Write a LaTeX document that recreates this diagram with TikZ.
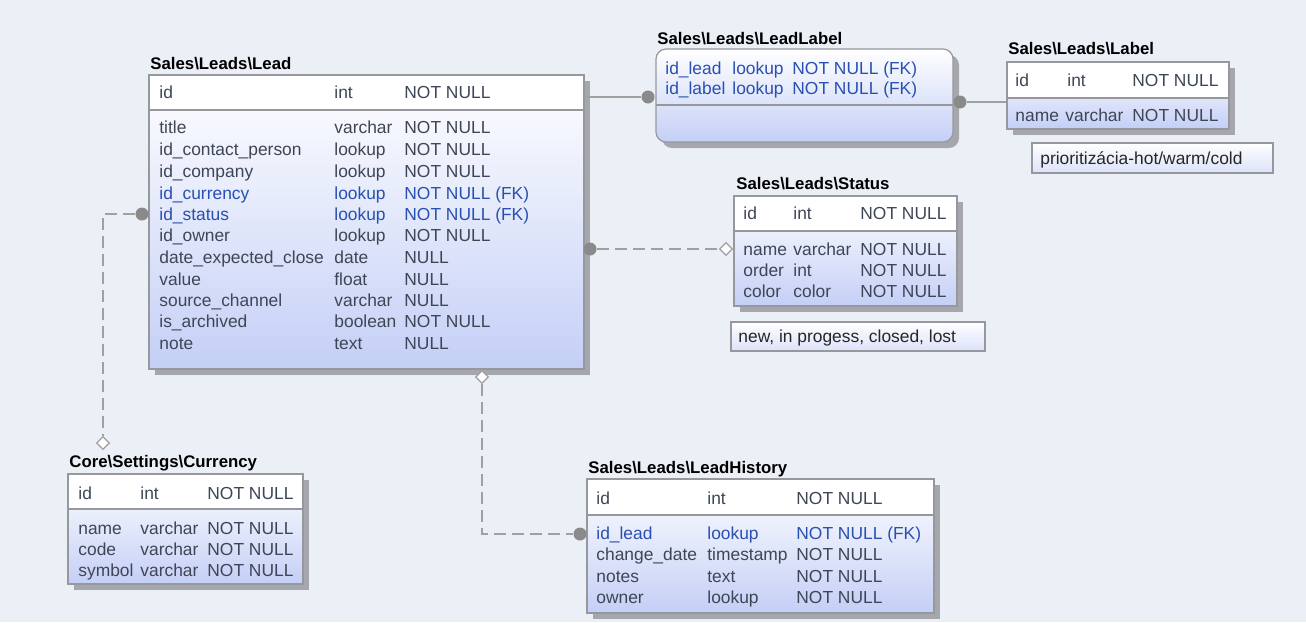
\documentclass[tikz,border=0pt]{standalone}
\usepackage{fontspec}
\setmainfont{Liberation Sans}
\usepackage{tikz}
\definecolor{bgblue}{RGB}{235,240,247}
\definecolor{bodyblue}{RGB}{196,207,246}
\definecolor{border}{RGB}{150,152,158}
\definecolor{shadowgray}{RGB}{165,167,172}
\definecolor{txt}{RGB}{62,70,86}
\definecolor{fk}{RGB}{40,80,178}
\definecolor{linkgray}{RGB}{160,160,160}
\definecolor{dotgray}{RGB}{138,138,138}
\usetikzlibrary{shapes.geometric}

\begin{document}
\begin{tikzpicture}[x=0.5pt, y=-0.5pt,
    cell/.style={anchor=base west, inner sep=0pt, yshift=-3pt, font=\fontsize{8.7}{10}\selectfont},
    tabletitle/.style={anchor=base west, inner sep=0pt, yshift=-3pt, font=\fontsize{8.4}{10}\selectfont\bfseries},
    tblshadow/.style={fill=shadowgray},
    tblhead/.style={draw=border, fill=white, line width=0.6pt},
    tblbody/.style={draw=border, top color=white, bottom color=bodyblue, line width=0.6pt},
    notebox/.style={draw=border, top color=white, bottom color=bodyblue!60, line width=0.6pt},
    link/.style={draw=linkgray, line width=1pt},
    optional/.style={link, dash pattern=on 6pt off 3pt},
    many/.style={circle, fill=dotgray, inner sep=0pt, minimum size=6.5pt},
    one/.style={diamond, draw=linkgray, fill=white, inner sep=0pt, minimum size=6.5pt, line width=0.6pt}]

    % Background
    \fill[bgblue] (0,0) rectangle (1306,622);
    \useasboundingbox (0,0) rectangle (1306,622);

    % Sales\Leads\Lead
    \node[tabletitle] (lead-title) at (150,63) {Sales\textbackslash Leads\textbackslash Lead};
    \fill[tblshadow] (155,81) rectangle (590,375);
    \draw[tblbody] (149,75) rectangle (584,369);
    \draw[tblhead] (149,75) rectangle (584,110);
    \node[cell, text=txt] (lead-id) at (159,92) {id};
    \node[cell, text=txt] (lead-idt) at (334,92) {int};
    \node[cell, text=txt] (lead-idn) at (404,92) {NOT NULL};
    \foreach \y/\c/\t/\n/\col in {127/title/varchar/NOT NULL/txt,
        149/id\_contact\_person/lookup/NOT NULL/txt,
        171/id\_company/lookup/NOT NULL/txt,
        193/id\_currency/lookup/NOT NULL (FK)/fk,
        214/id\_status/lookup/NOT NULL (FK)/fk,
        235/id\_owner/lookup/NOT NULL/txt,
        257/date\_expected\_close/date/NULL/txt,
        279/value/float/NULL/txt,
        300/source\_channel/varchar/NULL/txt,
        321/is\_archived/boolean/NOT NULL/txt,
        343/note/text/NULL/txt} {
        \node[cell, text=\col] (lead-c\y) at (159,\y) {\c};
        \node[cell, text=\col] (lead-t\y) at (334,\y) {\t};
        \node[cell, text=\col] (lead-n\y) at (404,\y) {\n};
    }

    % Sales\Leads\LeadLabel
    \node[tabletitle] (leadlabel-title) at (657,38) {Sales\textbackslash Leads\textbackslash LeadLabel};
    \fill[tblshadow, rounded corners=5pt] (662,55) rectangle (959,148);
    \draw[tblbody, rounded corners=5pt] (656,49) rectangle (953,142);
    \draw[draw=border, line width=0.6pt] (656,105) -- (953,105);
    \foreach \y/\c in {68/id\_lead, 88/id\_label} {
        \node[cell, text=fk] (leadlabel-c\y) at (665,\y) {\c};
        \node[cell, text=fk] (leadlabel-t\y) at (732,\y) {lookup};
        \node[cell, text=fk] (leadlabel-n\y) at (792,\y) {NOT NULL (FK)};
    }

    % Sales\Leads\Label
    \node[tabletitle] (label-title) at (1008,48) {Sales\textbackslash Leads\textbackslash Label};
    \fill[tblshadow] (1013,68) rectangle (1235,135);
    \draw[tblbody] (1007,62) rectangle (1229,129);
    \draw[tblhead] (1007,62) rectangle (1229,98);
    \node[cell, text=txt] (label-id) at (1015,80) {id};
    \node[cell, text=txt] (label-idt) at (1067,80) {int};
    \node[cell, text=txt] (label-idn) at (1132,80) {NOT NULL};
    \node[cell, text=txt] (label-name) at (1015,115) {name};
    \node[cell, text=txt] (label-namet) at (1065,115) {varchar};
    \node[cell, text=txt] (label-namen) at (1132,115) {NOT NULL};
    \draw[notebox] (1032,143) rectangle (1273,173);
    \node[cell, text=black!85] (label-note) at (1040,158) {prioritizácia-hot/warm/cold};

    % Sales\Leads\Status
    \node[tabletitle] (status-title) at (736,183) {Sales\textbackslash Leads\textbackslash Status};
    \fill[tblshadow] (740,202) rectangle (963,312);
    \draw[tblbody] (734,196) rectangle (957,306);
    \draw[tblhead] (734,196) rectangle (957,231);
    \foreach \y/\c/\t in {213/id/int, 249/name/varchar, 270/order/int, 291/color/color} {
        \node[cell, text=txt] (status-c\y) at (743,\y) {\c};
        \node[cell, text=txt] (status-t\y) at (793,\y) {\t};
        \node[cell, text=txt] (status-n\y) at (860,\y) {NOT NULL};
    }
    \draw[notebox] (731,322) rectangle (985,351);
    \node[cell, text=black!85] (status-note) at (738,336) {new, in progess, closed, lost};

    % Core\Settings\Currency
    \node[tabletitle] (currency-title) at (69,461) {Core\textbackslash Settings\textbackslash Currency};
    \fill[tblshadow] (74,480) rectangle (309,590);
    \draw[tblbody] (68,474) rectangle (303,584);
    \draw[tblhead] (68,474) rectangle (303,509);
    \foreach \y/\c/\t in {493/id/int, 528/name/varchar, 549/code/varchar, 570/symbol/varchar} {
        \node[cell, text=txt] (currency-c\y) at (78,\y) {\c};
        \node[cell, text=txt] (currency-t\y) at (140,\y) {\t};
        \node[cell, text=txt] (currency-n\y) at (207,\y) {NOT NULL};
    }

    % Sales\Leads\LeadHistory
    \node[tabletitle] (history-title) at (588,467) {Sales\textbackslash Leads\textbackslash LeadHistory};
    \fill[tblshadow] (593,485) rectangle (940,619);
    \draw[tblbody] (587,479) rectangle (934,613);
    \draw[tblhead] (587,479) rectangle (934,515);
    \foreach \y/\c/\t/\n/\col in {498/id/int/NOT NULL/txt,
        533/id\_lead/lookup/NOT NULL (FK)/fk,
        554/change\_date/timestamp/NOT NULL/txt,
        576/notes/text/NOT NULL/txt,
        597/owner/lookup/NOT NULL/txt} {
        \node[cell, text=\col] (history-c\y) at (596,\y) {\c};
        \node[cell, text=\col] (history-t\y) at (707,\y) {\t};
        \node[cell, text=\col] (history-n\y) at (796,\y) {\n};
    }

    % Relations
    \coordinate (lead-out) at (584,97);
    \node[many] (leadlabel-in) at (648,97) {};
    \draw[link] (lead-out) -- (leadlabel-in);

    \node[many] (leadlabel-out) at (960,102) {};
    \coordinate (label-in) at (1007,102);
    \draw[link] (leadlabel-out) -- (label-in);

    \node[many] (lead-status) at (590,249) {};
    \node[one] (status-in) at (726,249) {};
    \draw[optional] (lead-status) -- (status-in);

    \node[many] (lead-currency) at (142,214) {};
    \node[one] (currency-in) at (103,443) {};
    \draw[optional] (lead-currency) -| (currency-in);

    \node[one] (lead-history) at (482,377) {};
    \node[many] (history-in) at (580,534) {};
    \draw[optional] (lead-history) |- (history-in);
\end{tikzpicture}
\end{document}
